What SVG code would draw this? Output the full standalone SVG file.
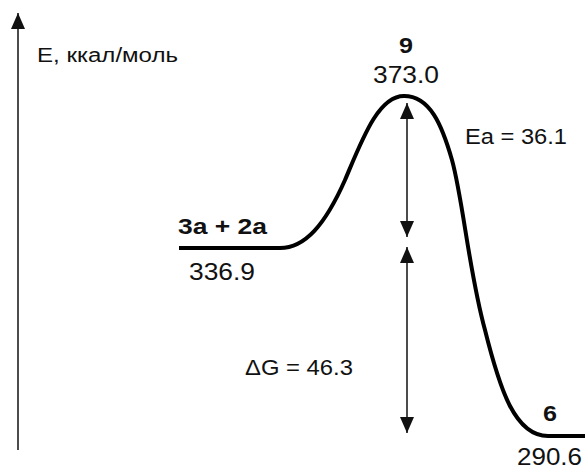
<svg xmlns="http://www.w3.org/2000/svg" width="585" height="469" viewBox="0 0 585 469">
<defs>
<marker id="ah" viewBox="0 0 16 14" refX="16" refY="7" markerWidth="16" markerHeight="14" markerUnits="userSpaceOnUse" orient="auto">
<path d="M0,0 L16,7 L0,14 Z" fill="#111"/>
</marker>
<style>
text{font-family:"Liberation Sans",Arial,sans-serif;fill:#111}
.b{font-weight:bold}
.thin{stroke:#111;stroke-width:1.5;fill:none}
.curve{stroke:#000;stroke-width:4;fill:none;stroke-linecap:butt;stroke-linejoin:round}
</style>
</defs>
<rect width="585" height="469" fill="#fff"/>
<g id="axis">
<line class="thin" x1="18" y1="450" x2="18" y2="13" marker-end="url(#ah)"/>
<text x="37" y="62" font-size="20" textLength="141" lengthAdjust="spacingAndGlyphs">Е, ккал/моль</text>
</g>
<g id="connectors">
<path id="profile" class="curve" d="M179,248 L280,248 C305,248 325,225 345,180 C362,140 378,96 404,96 C430,96 442,125 452,160 C463,200 469,272 485,330 C500,390 515,436 548,436 L585,436"/>
<line class="thin" x1="407" y1="170" x2="407" y2="103" marker-end="url(#ah)"/>
<line class="thin" x1="407" y1="170" x2="407" y2="237" marker-end="url(#ah)"/>
<line class="thin" x1="407" y1="340" x2="407" y2="247" marker-end="url(#ah)"/>
<line class="thin" x1="407" y1="340" x2="407" y2="433" marker-end="url(#ah)"/>
</g>
<g id="node-reactants">
<text class="b" x="178" y="234" font-size="22" textLength="89" lengthAdjust="spacingAndGlyphs">3a + 2a</text>
<text x="189" y="280" font-size="23" textLength="66" lengthAdjust="spacingAndGlyphs">336.9</text>
</g>
<g id="node-ts">
<text class="b" x="399" y="53" font-size="22" textLength="14" lengthAdjust="spacingAndGlyphs">9</text>
<text x="373" y="83" font-size="24" textLength="66" lengthAdjust="spacingAndGlyphs">373.0</text>
</g>
<g id="node-product">
<text class="b" x="543" y="421" font-size="22" textLength="14" lengthAdjust="spacingAndGlyphs">6</text>
<text x="517" y="465" font-size="23" textLength="65" lengthAdjust="spacingAndGlyphs">290.6</text>
</g>
<g id="labels">
<text x="465" y="144" font-size="22" textLength="102" lengthAdjust="spacingAndGlyphs">Ea = 36.1</text>
<text x="245" y="375" font-size="22" textLength="108" lengthAdjust="spacingAndGlyphs">ΔG = 46.3</text>
</g>
</svg>
